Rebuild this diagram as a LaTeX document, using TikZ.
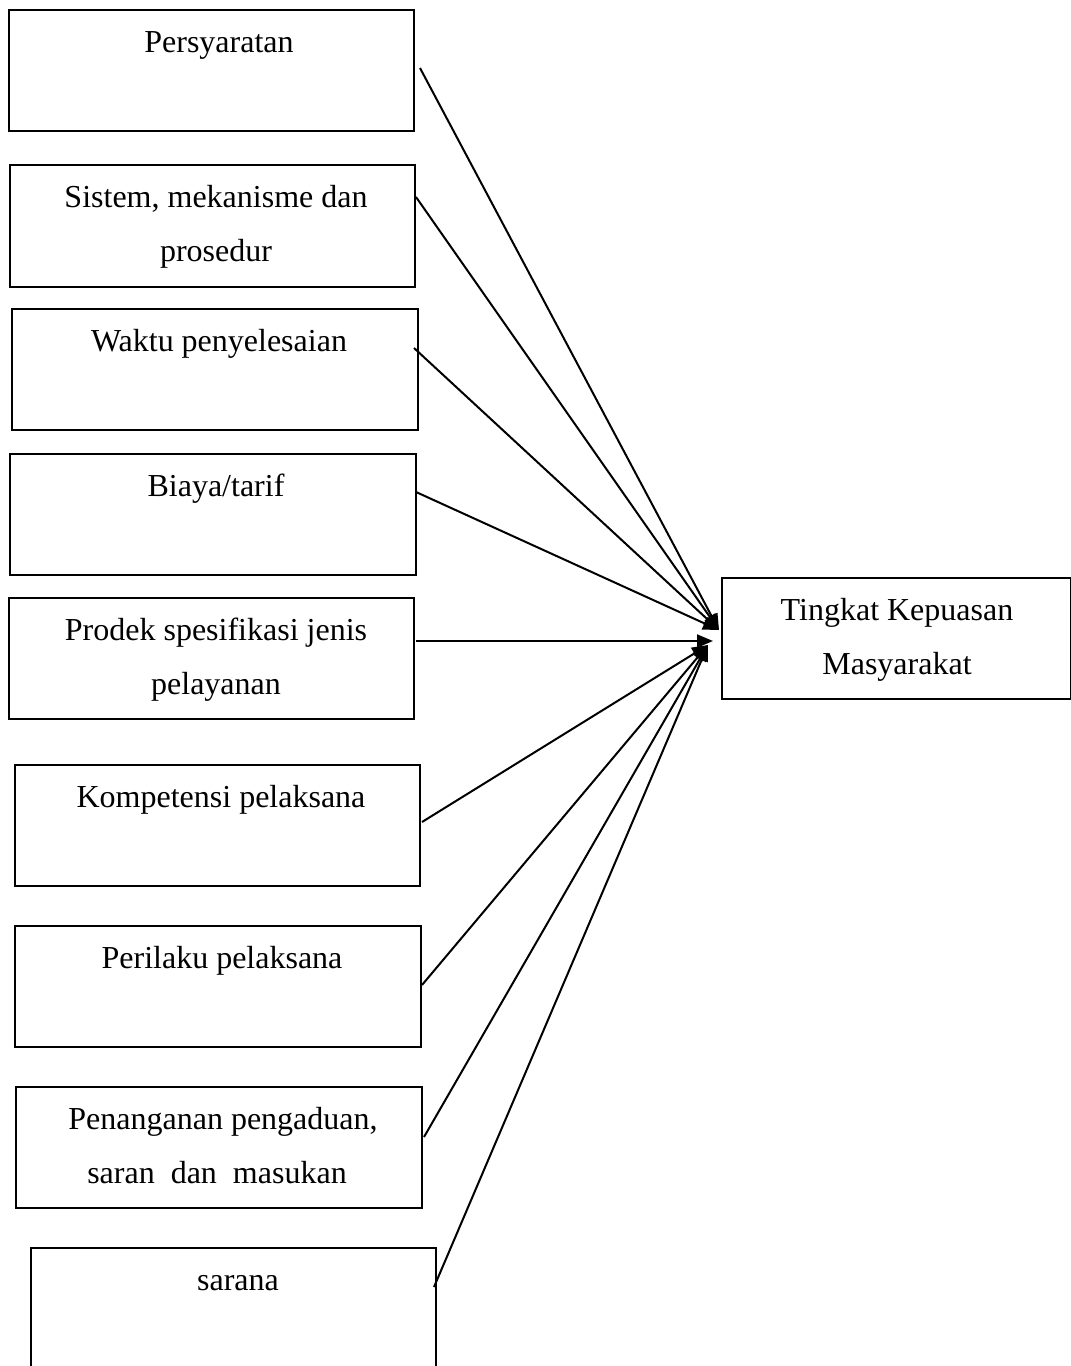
\documentclass[tikz,border=0pt]{standalone}
\usepackage{fontspec}
\setmainfont{Liberation Serif}
\usetikzlibrary{arrows.meta}
\begin{document}
\begin{tikzpicture}[x=1pt,y=-1pt,
  box/.style={draw,line width=1.8pt,rectangle,inner sep=0pt},
  lbl/.style={anchor=base,inner sep=0pt,font=\fontsize{32}{54}\selectfont},
  conn/.style={line width=2pt,-{Triangle[length=16pt,width=13pt]}}]
\useasboundingbox (0,0) rectangle (1071,1366);
% boxes
\node[box,minimum width=405pt,minimum height=121pt] (b1) at (211.5,70.5) {};
\node[box,minimum width=405pt,minimum height=122pt] (b2) at (212.5,226) {};
\node[box,minimum width=406pt,minimum height=121pt] (b3) at (215,369.5) {};
\node[box,minimum width=406pt,minimum height=121pt] (b4) at (213,514.5) {};
\node[box,minimum width=405pt,minimum height=121pt] (b5) at (211.5,658.5) {};
\node[box,minimum width=405pt,minimum height=121pt] (b6) at (217.5,825.5) {};
\node[box,minimum width=406pt,minimum height=121pt] (b7) at (218,986.5) {};
\node[box,minimum width=406pt,minimum height=121pt] (b8) at (219,1147.5) {};
\node[box,minimum width=405pt,minimum height=140pt] (b9) at (233.5,1318) {};
\node[box,minimum width=349pt,minimum height=121pt] (t) at (896.5,638.5) {};
% texts
\node[lbl] (l1) at (219,52) {Persyaratan};
\node[lbl] (l2a) at (216,207) {Sistem, mekanisme dan};
\node[lbl] (l2b) at (216,261) {prosedur};
\node[lbl] (l3) at (219,351) {Waktu penyelesaian};
\node[lbl] (l4) at (216,496) {Biaya/tarif};
\node[lbl] (l5a) at (216,640) {Prodek spesifikasi jenis};
\node[lbl] (l5b) at (216,694) {pelayanan};
\node[lbl] (l6) at (221,807) {Kompetensi pelaksana};
\node[lbl] (l7) at (222,968) {Perilaku pelaksana};
\node[lbl] (l8a) at (223,1129) {Penanganan pengaduan,};
\node[lbl] (l8b) at (217,1183) {saran\ \ dan\ \ masukan};
\node[lbl] (l9) at (238,1290) {sarana};
\node[lbl] (lta) at (897,620) {Tingkat Kepuasan};
\node[lbl] (ltb) at (897,674) {Masyarakat};
% connector start and end points
\coordinate (s1) at (420,68);
\coordinate (s2) at (416,197);
\coordinate (s3) at (414,348);
\coordinate (s4) at (416,492);
\coordinate (s5) at (416,641);
\coordinate (s6) at (422,822);
\coordinate (s7) at (422,985);
\coordinate (s8) at (424,1137);
\coordinate (s9) at (434,1287);
\coordinate (e1) at (719,630);
\coordinate (e5) at (713,641);
\coordinate (e6) at (708,645);
\draw[conn] (s1) -- (e1);
\draw[conn] (s2) -- (e1);
\draw[conn] (s3) -- (e1);
\draw[conn] (s4) -- (e1);
\draw[conn] (s5) -- (e5);
\draw[conn] (s6) -- (e6);
\draw[conn] (s7) -- (e6);
\draw[conn] (s8) -- (e6);
\draw[conn] (s9) -- (e6);
\end{tikzpicture}
\end{document}
